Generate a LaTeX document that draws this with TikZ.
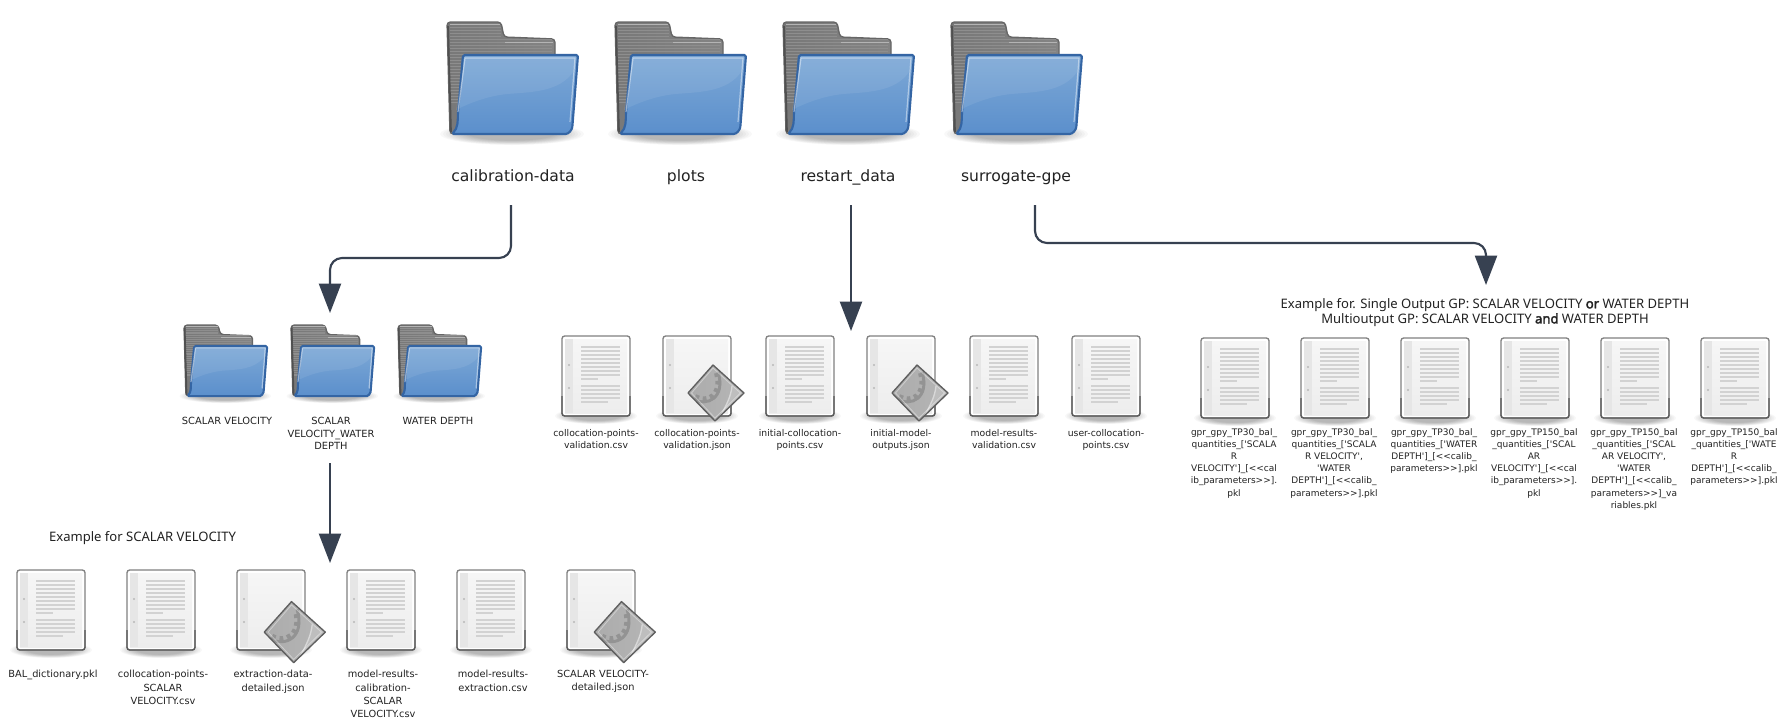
\documentclass[tikz,border=0pt]{standalone}
\usepackage{fontspec}
\usetikzlibrary{arrows.meta}
\newfontfamily\labfont{DejaVu Sans}
\newfontfamily\exfont{Noto Sans}
\newfontface\exbold[FakeBold=2.5]{Noto Sans}
\definecolor{conn}{HTML}{374151}
\definecolor{foldblue}{HTML}{3465A4}
\definecolor{txt}{HTML}{222222}
\definecolor{docline}{HTML}{D2D2D2}
\definecolor{docedge}{HTML}{808080}
\definecolor{docedgeb}{HTML}{5A5A5A}
\definecolor{docfa}{HTML}{F6F6F6}
\definecolor{docfb}{HTML}{EDEDED}
\definecolor{docstrip}{HTML}{E6E6E6}
\definecolor{dochole}{HTML}{B8B8B8}
\definecolor{backa}{HTML}{787878}
\definecolor{backb}{HTML}{848484}
\definecolor{backedge}{HTML}{666666}
\definecolor{backdark}{HTML}{505050}
\definecolor{stripe}{HTML}{8E8E8E}
\definecolor{tabhi}{HTML}{B4B4B4}
\definecolor{bluetop}{HTML}{7EA9D6}
\definecolor{bluebot}{HTML}{5B8FCC}
\definecolor{diama}{HTML}{ABABAB}
\definecolor{diamb}{HTML}{B6B6B6}
\definecolor{diamlow}{HTML}{BEBEBE}
\definecolor{gearc}{HTML}{939393}
\definecolor{diamhi}{HTML}{D8D8D8}
\definecolor{diamedge}{HTML}{5E5E5E}
\tikzset{
  x=0.75pt,y=-0.75pt,
  toplab/.style={font=\labfont\fontsize{11.7}{14}\selectfont,text=txt,anchor=base,inner sep=0pt},
  midlab/.style={font=\labfont\fontsize{6.95}{9.45}\selectfont,text=txt,anchor=north,align=center,inner sep=0pt},
  rightlab/.style={font=\labfont\fontsize{6.75}{9.15}\selectfont,text=txt,anchor=north,align=center,inner sep=0pt},
  flab/.style={font=\labfont\fontsize{7.4}{9.5}\selectfont,text=txt,anchor=north,align=center,inner sep=0pt},
  botlab/.style={font=\labfont\fontsize{7.35}{10}\selectfont,text=txt,anchor=north,align=center,inner sep=0pt},
  exlab/.style={font=\exfont\fontsize{9.8}{11.3}\selectfont,text=txt,anchor=north,align=center,inner sep=0pt},
  conline/.style={draw=conn,line width=1.6pt,rounded corners=9pt,-{Triangle[width=16.5pt,length=22pt]}},
  folder/.pic={
    \foreach \r in {1,.96,...,.6}{
      \fill[black,opacity=.028] (65,112) ellipse ({72*\r} and {11*\r});
    }
    \path[left color=backa,right color=backb,draw=backedge,line width=1pt,rounded corners=2.5pt]
      (0,0) -- (54,0) -- (57,15) -- (108,17) -- (108,60) -- (108,112) -- (3,112) -- cycle;
    \foreach \yy in {5,8,...,80}{
      \draw[stripe,line width=.6pt] (3,\yy) -- ({\yy<16?54:105},\yy);
    }
    \draw[tabhi,line width=.7pt] (3,2) -- (53,2);
    \draw[tabhi,line width=.7pt] (58,20) -- (106,20);
    \draw[backdark,line width=1.3pt] (1,4) -- (4,110);
    \path[top color=bluetop,bottom color=bluebot,draw=foldblue,line width=1.6pt,rounded corners=1.2pt,line join=round]
      (16,33) -- (131,33) -- (125.5,103) to[out=265,in=0] (117,112) -- (5,112) to[out=45,in=268] (11,90) -- cycle;
    \fill[white,opacity=.08] (18,36) -- (128,36) -- (126,50) .. controls (112,70) and (85,70) .. (60,72) .. controls (40,74) and (20,82) .. (9,88) -- cycle;
    \draw[white,opacity=.45,line width=.9pt] (11,90) -- (18,36) -- (128,36) -- (123,100);
  },
  docbase/.pic={
    \foreach \r in {1,.96,...,.6}{
      \fill[black,opacity=.028] (34,80) ellipse ({41*\r} and {8*\r});
    }
    \path[fill=white,draw=docedge,line width=1pt,rounded corners=2pt] (0,0) rectangle (68,80);
    \draw[docedgeb,line width=1pt,rounded corners=2pt] (0,60) -- (0,80) -- (68,80) -- (68,60);
    \shade[top color=docfa,bottom color=docfb] (3,3) rectangle (65,77);
    \fill[docstrip] (3,3) rectangle (11,77);
    \fill[dochole] (7,29) circle (1.2);
    \fill[dochole] (7,52) circle (1.2);
  },
  doctext/.pic={
    \foreach \yy in {11,15,...,39}{\draw[docline,line width=1.05pt] (19,\yy) -- (58,\yy);}
    \draw[docline,line width=1.05pt] (19,43) -- (36,43);
    \foreach \yy in {50,54,58,62}{\draw[docline,line width=1.05pt] (19,\yy) -- (58,\yy);}
    \draw[docline,line width=1.05pt] (19,66) -- (46,66);
  },
  textdoc/.pic={\pic{docbase};\pic{doctext};},
  jsondoc/.pic={
    \pic{docbase};
    \begin{scope}
      \clip (50,29) -- (81,57) -- (52,85) -- (25,57) -- cycle;
      \shade[left color=diama,right color=diamb] (24,29) rectangle (81,85);
      \fill[diamlow] (57,81) .. controls (64,68) and (68,60) .. (69,50) -- (83,57) -- (52,87) -- cycle;
      \draw[gearc,line width=2.2pt] (30,63) .. controls (44,71) and (63,62) .. (55,36);
      \draw[gearc,line width=4.4pt,dash pattern=on 3pt off 3pt] (32,61) .. controls (44,68) and (60,60) .. (54,37);
      \draw[diamhi,line width=1pt] (57,81) .. controls (64,68) and (68,60) .. (69,50);
    \end{scope}
    \draw[diamedge,line width=1pt,line join=round] (50,29) -- (81,57) -- (52,85) -- (25,57) -- cycle;
    \draw[white,opacity=.4,line width=.6pt] (50,32) -- (77.5,57) -- (52,82) -- (28.5,57) -- cycle;
  },
}
\begin{document}
\begin{tikzpicture}
\useasboundingbox (0,0) rectangle (1785,722);
\fill[white] (0,0) rectangle (1785,722);

% top folders
\pic (topa) at (447,22) {folder};
\pic (topb) at (615,22) {folder};
\pic (topc) at (783,22) {folder};
\pic (topd) at (951,22) {folder};
\node[toplab] (lcal) at (513,181) {calibration-data};
\node[toplab] (lplo) at (686,181) {plots};
\node[toplab] (lres) at (848,181) {restart\_data};
\node[toplab] (lsur) at (1016,181) {surrogate-gpe};

% small folders
\pic[scale=.635] (sfa) at (184,325) {folder};
\pic[scale=.635] (sfb) at (291,325) {folder};
\pic[scale=.635] (sfc) at (398,325) {folder};
\node[flab] (lsa) at (227,417) {SCALAR VELOCITY};
\node[flab] (lsb) at (331,417) {SCALAR\\VELOCITY\_WATER\\DEPTH};
\node[flab] (lsc) at (438,417) {WATER DEPTH};

% middle documents
\pic at (562,336) {textdoc};
\pic at (663,336) {jsondoc};
\pic at (766,336) {textdoc};
\pic at (867,336) {jsondoc};
\pic at (970,336) {textdoc};
\pic at (1072,336) {textdoc};
\node[midlab] (m1) at (596,429) {collocation-points-\\validation.csv};
\node[midlab] (m2) at (697,429) {collocation-points-\\validation.json};
\node[midlab] (m3) at (800,429) {initial-collocation-\\points.csv};
\node[midlab] (m4) at (901,429) {initial-model-\\outputs.json};
\node[midlab] (m5) at (1004,429) {model-results-\\validation.csv};
\node[midlab] (m6) at (1106,429) {user-collocation-\\points.csv};

% right documents
\pic at (1201,338) {textdoc};
\pic at (1301,338) {textdoc};
\pic at (1401,338) {textdoc};
\pic at (1501,338) {textdoc};
\pic at (1601,338) {textdoc};
\pic at (1701,338) {textdoc};
\node[rightlab] (r1) at (1234,428) {gpr\_gpy\_TP30\_bal\_\\quantities\_['SCALA\\R\\VELOCITY']\_[<{}<cal\\ib\_parameters>{}>].\\pkl};
\node[rightlab] (r2) at (1334,428) {gpr\_gpy\_TP30\_bal\_\\quantities\_['SCALA\\R VELOCITY',\\'WATER\\DEPTH']\_[<{}<calib\_\\parameters>{}>].pkl};
\node[rightlab] (r3) at (1434,428) {gpr\_gpy\_TP30\_bal\_\\quantities\_['WATER\\DEPTH']\_[<{}<calib\_\\parameters>{}>].pkl};
\node[rightlab] (r4) at (1534,428) {gpr\_gpy\_TP150\_bal\\\_quantities\_['SCAL\\AR\\VELOCITY']\_[<{}<cal\\ib\_parameters>{}>].\\pkl};
\node[rightlab] (r5) at (1634,428) {gpr\_gpy\_TP150\_bal\\\_quantities\_['SCAL\\AR VELOCITY',\\'WATER\\DEPTH']\_[<{}<calib\_\\parameters>{}>]\_va\\riables.pkl};
\node[rightlab] (r6) at (1734,428) {gpr\_gpy\_TP150\_bal\\\_quantities\_['WATE\\R\\DEPTH']\_[<{}<calib\_\\parameters>{}>].pkl};
\node[exlab] (exr) at (1485,298) {Example for. Single Output GP: SCALAR VELOCITY {\exbold or} WATER DEPTH\\Multioutput GP: SCALAR VELOCITY {\exbold and} WATER DEPTH};

% bottom documents
\pic[scale=1.09] at (17,570) {textdoc};
\pic[scale=1.09] at (127,570) {textdoc};
\pic[scale=1.09] at (237,570) {jsondoc};
\pic[scale=1.09] at (347,570) {textdoc};
\pic[scale=1.09] at (457,570) {textdoc};
\pic[scale=1.09] at (567,570) {jsondoc};
\node[botlab] (b1) at (53,670) {BAL\_dictionary.pkl};
\node[botlab] (b2) at (163,670) {collocation-points-\\SCALAR\\VELOCITY.csv};
\node[botlab] (b3) at (273,670) {extraction-data-\\detailed.json};
\node[botlab] (b4) at (383,670) {model-results-\\calibration-\\SCALAR\\VELOCITY.csv};
\node[botlab] (b5) at (493,670) {model-results-\\extraction.csv};
\node[botlab] (b6) at (603,670) {SCALAR VELOCITY-\\detailed.json};
\node[exlab] (exb) at (142.5,531) {Example for SCALAR VELOCITY};

% connectors
\coordinate (sa) at (511,205);
\coordinate (ta) at (330,313);
\coordinate (sb) at (851,205);
\coordinate (tb) at (851,331);
\coordinate (sc) at (1035,205);
\coordinate (tc) at (1486,285);
\coordinate (sd) at (330,463);
\coordinate (td) at (330,563);
\draw[conline] (sa) |- (ta |- 0,258) -- (ta);
\draw[conline] (sb) -- (tb);
\draw[conline] (sc) |- (tc |- 0,243) -- (tc);
\draw[conline] (sd) -- (td);
\end{tikzpicture}
\end{document}
